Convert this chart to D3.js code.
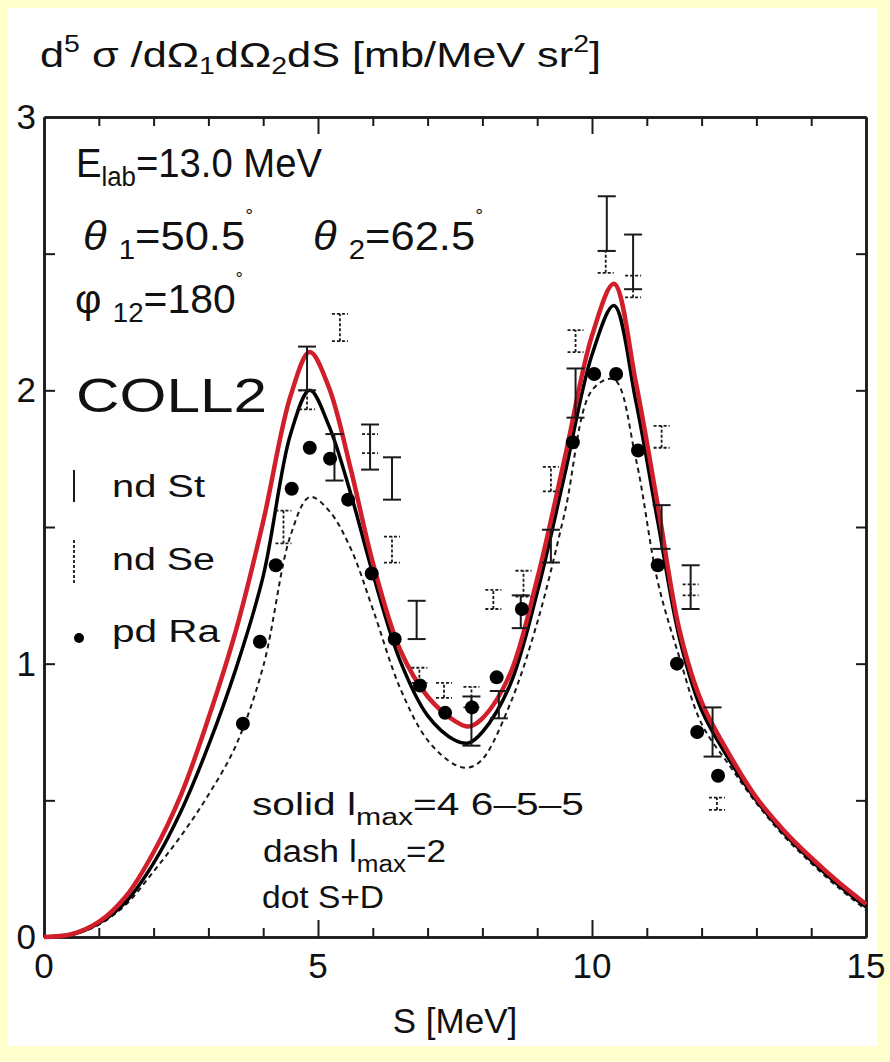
<!DOCTYPE html>
<html>
<head>
<meta charset="utf-8">
<script src="https://cdn.jsdelivr.net/npm/d3@7"></script>
<style>
  body { margin: 0; background: #ffffcc; }
  svg text { font-family: "Liberation Sans", Arial, sans-serif; fill: #111; }
  svg text.narrow { font-family: "Liberation Sans Narrow", "Liberation Sans", Arial, sans-serif; }
</style>
</head>
<body>
<svg id="svg" width="890" height="1062"></svg>
<script>
// S grid shared by the three theory curves
var gridS = [0, 0.5, 1, 1.5, 2, 2.5, 3, 3.5, 4, 4.5, 4.85, 5.2, 5.6, 6, 6.5, 7, 7.5, 7.75, 8, 8.5, 9, 9.5, 10, 10.4, 10.8, 11.2, 11.6, 12, 12.5, 13, 13.5, 14, 14.5, 15];
var redV   = [0, 0.01, 0.055, 0.15, 0.31, 0.52, 0.80, 1.12, 1.52, 1.98, 2.14, 2.01, 1.71, 1.37, 1.05, 0.88, 0.79, 0.77, 0.80, 0.96, 1.31, 1.75, 2.20, 2.39, 2.03, 1.58, 1.12, 0.86, 0.67, 0.51, 0.39, 0.29, 0.20, 0.12];
var blackV = [0, 0.008, 0.05, 0.13, 0.27, 0.46, 0.70, 0.98, 1.32, 1.84, 2.00, 1.87, 1.62, 1.33, 1.01, 0.81, 0.72, 0.71, 0.75, 0.92, 1.26, 1.69, 2.13, 2.31, 1.96, 1.52, 1.09, 0.83, 0.65, 0.50, 0.38, 0.28, 0.19, 0.11];
var dashV  = [0, 0.008, 0.045, 0.12, 0.24, 0.37, 0.52, 0.70, 0.99, 1.47, 1.61, 1.56, 1.42, 1.20, 0.91, 0.72, 0.63, 0.62, 0.65, 0.85, 1.15, 1.55, 2.00, 2.04, 1.75, 1.30, 1.02, 0.78, 0.63, 0.49, 0.37, 0.27, 0.18, 0.10];

// pd Ra points
var raS = [3.63, 3.94, 4.23, 4.52, 4.85, 5.22, 5.55, 5.98, 6.4, 6.86, 7.32, 7.81, 8.26, 8.72, 9.65, 10.04, 10.44, 10.84, 11.2, 11.55, 11.92, 12.3];
var raV = [0.78, 1.08, 1.36, 1.64, 1.79, 1.75, 1.60, 1.33, 1.09, 0.92, 0.82, 0.84, 0.95, 1.20, 1.81, 2.06, 2.06, 1.78, 1.36, 1.00, 0.75, 0.59];

// nd St error bars (solid): S, low, high
var stS  = [4.8, 5.3, 5.95, 6.35, 6.8, 7.8, 8.3, 8.7, 9.25, 9.7, 10.27, 10.75, 11.27, 11.8, 12.2];
var stLo = [2.00, 1.67, 1.71, 1.60, 1.09, 0.70, 0.80, 1.13, 1.37, 1.90, 2.51, 2.37, 1.42, 1.20, 0.66];
var stHi = [2.16, 1.84, 1.875, 1.755, 1.23, 0.88, 0.90, 1.25, 1.49, 2.08, 2.71, 2.57, 1.58, 1.36, 0.84];

// nd Se error bars (dashed)
var seS  = [4.37, 4.8, 5.4, 5.95, 6.35, 6.85, 7.3, 7.8, 8.2, 8.75, 9.25, 9.7, 10.25, 10.75, 11.27, 11.8, 12.28];
var seLo = [1.44, 1.93, 2.18, 1.77, 1.37, 0.93, 0.875, 0.84, 1.20, 1.245, 1.63, 2.14, 2.43, 2.34, 1.79, 1.25, 0.465];
var seHi = [1.56, 2.00, 2.28, 1.84, 1.465, 0.985, 0.93, 0.915, 1.27, 1.34, 1.72, 2.22, 2.51, 2.42, 1.87, 1.29, 0.51];

var xMinor = [1,2,3,4,6,7,8,9,11,12,13,14];
var xMajor = [5,10];
var xLabels = [0,5,10,15];
var yMinor = [0.5,1.5,2.5];
var yMajor = [1,2];
var yLabels = [0,1,2,3];

var svg = d3.select("#svg");
svg.append("rect").attr("x",8).attr("y",8).attr("width",870).attr("height",1038).attr("fill","#ffffff");

var x = d3.scaleLinear().domain([0,15]).range([44,866]);
var y = d3.scaleLinear().domain([0,3]).range([937,117]);

var ink = "#1a1a1a";

// axes on all four sides, ticks inward
function tickAxis(gen, scale, vals, size, tr) {
  var g = svg.append("g").attr("transform", tr)
    .call(gen(scale).tickValues(vals).tickSize(size).tickSizeOuter(0).tickFormat(""));
  g.selectAll("line").attr("stroke", ink).attr("stroke-width", 2);
  g.select(".domain").attr("stroke", ink).attr("stroke-width", 2.5);
  return g;
}
tickAxis(d3.axisBottom, x, xMinor, -9, "translate(0,937)");
tickAxis(d3.axisBottom, x, xMajor, -17, "translate(0,937)");
tickAxis(d3.axisTop, x, xMinor, -9, "translate(0,117)");
tickAxis(d3.axisTop, x, xMajor, -17, "translate(0,117)");
tickAxis(d3.axisLeft, y, yMinor, -11, "translate(44,0)");
tickAxis(d3.axisLeft, y, yMajor, -11, "translate(44,0)");
tickAxis(d3.axisRight, y, yMinor, -10, "translate(866,0)");
tickAxis(d3.axisRight, y, yMajor, -10, "translate(866,0)");

// tick labels
svg.selectAll("text.xl").data(xLabels).enter().append("text").attr("class","narrow")
  .attr("x", function(d){ return x(d); }).attr("y", 978)
  .attr("text-anchor","middle").attr("font-size", 35)
  .text(function(d){ return d; });
svg.selectAll("text.yl").data(yLabels).enter().append("text").attr("class","narrow")
  .attr("x", 36).attr("y", function(d){ return y(d) + 12; })
  .attr("text-anchor","end").attr("font-size", 35)
  .text(function(d){ return d; });

svg.append("text").attr("class","narrow").attr("x",455).attr("y",1033).attr("text-anchor","middle")
  .attr("font-size",35).text("S [MeV]");

// curves
var line = d3.line()
  .x(function(d,i){ return x(gridS[i]); })
  .y(function(d){ return y(d); })
  .curve(d3.curveCatmullRom.alpha(0.5));

var plot = svg.append("g");
plot.append("path").datum(dashV).attr("d", line).attr("fill","none")
  .attr("stroke", ink).attr("stroke-width", 2).attr("stroke-dasharray","5,4");
plot.append("path").datum(blackV).attr("d", line).attr("fill","none")
  .attr("stroke", "#000").attr("stroke-width", 3.5);
plot.append("path").datum(redV).attr("d", line).attr("fill","none")
  .attr("stroke", "#d01f2b").attr("stroke-width", 4.5);

// nd St error bars
var st = plot.selectAll("g.st").data(stS).enter().append("g")
  .attr("stroke", ink).attr("stroke-width", 2);
st.append("line").attr("x1", function(d){ return x(d); }).attr("x2", function(d){ return x(d); })
  .attr("y1", function(d,i){ return y(stLo[i]); }).attr("y2", function(d,i){ return y(stHi[i]); });
st.append("line").attr("x1", function(d){ return x(d)-9; }).attr("x2", function(d){ return x(d)+9; })
  .attr("y1", function(d,i){ return y(stLo[i]); }).attr("y2", function(d,i){ return y(stLo[i]); });
st.append("line").attr("x1", function(d){ return x(d)-9; }).attr("x2", function(d){ return x(d)+9; })
  .attr("y1", function(d,i){ return y(stHi[i]); }).attr("y2", function(d,i){ return y(stHi[i]); });

// nd Se error bars (dashed)
var se = plot.selectAll("g.se").data(seS).enter().append("g")
  .attr("stroke", ink).attr("stroke-width", 1.8).attr("stroke-dasharray","3,2");
se.append("line").attr("x1", function(d){ return x(d); }).attr("x2", function(d){ return x(d); })
  .attr("y1", function(d,i){ return y(seLo[i]); }).attr("y2", function(d,i){ return y(seHi[i]); });
se.append("line").attr("x1", function(d){ return x(d)-8; }).attr("x2", function(d){ return x(d)+8; })
  .attr("y1", function(d,i){ return y(seLo[i]); }).attr("y2", function(d,i){ return y(seLo[i]); });
se.append("line").attr("x1", function(d){ return x(d)-8; }).attr("x2", function(d){ return x(d)+8; })
  .attr("y1", function(d,i){ return y(seHi[i]); }).attr("y2", function(d,i){ return y(seHi[i]); });

// pd Ra dots
plot.selectAll("circle.ra").data(raS).enter().append("circle")
  .attr("cx", function(d){ return x(d); }).attr("cy", function(d,i){ return y(raV[i]); })
  .attr("r", 7).attr("fill", "#000");

// title
var t = svg.append("text").attr("class","narrow").attr("x",40).attr("y",67).attr("font-size",35)
  .attr("textLength",561).attr("lengthAdjust","spacingAndGlyphs");
t.append("tspan").text("d");
t.append("tspan").attr("dy",-15).attr("font-size",23).text("5");
t.append("tspan").attr("dy",15).text(" σ /dΩ");
t.append("tspan").attr("dy",7).attr("font-size",23).text("1");
t.append("tspan").attr("dy",-7).text("dΩ");
t.append("tspan").attr("dy",7).attr("font-size",23).text("2");
t.append("tspan").attr("dy",-7).text("dS  [mb/MeV sr");
t.append("tspan").attr("dy",-15).attr("font-size",23).text("2");
t.append("tspan").attr("dy",15).text("]");

// annotations
var e = svg.append("text").attr("x",76).attr("y",177).attr("font-size",40)
  .attr("textLength",246).attr("lengthAdjust","spacingAndGlyphs");
e.append("tspan").text("E");
e.append("tspan").attr("dy",9).attr("font-size",27).text("lab");
e.append("tspan").attr("dy",-9).text("=13.0 MeV");

function angle(x0, label, sub, val, len) {
  var a = svg.append("text").attr("x",x0).attr("y",250).attr("font-size",40)
    .attr("textLength",len).attr("lengthAdjust","spacingAndGlyphs");
  a.append("tspan").attr("font-style","italic").text(label);
  a.append("tspan").attr("dy",9).attr("font-size",27).text(sub);
  a.append("tspan").attr("dy",-9).text(val);
  a.append("tspan").attr("dy",-28).attr("font-size",18).text("°");
}
angle(83, "θ ", "1", "=50.5", 170);
angle(313, "θ ", "2", "=62.5", 170);

var p = svg.append("text").attr("x",75).attr("y",313).attr("font-size",40)
  .attr("textLength",168).attr("lengthAdjust","spacingAndGlyphs");
p.append("tspan").text("φ ");
p.append("tspan").attr("dy",9).attr("font-size",27).text("12");
p.append("tspan").attr("dy",-9).text("=180");
p.append("tspan").attr("dy",-28).attr("font-size",18).text("°");

svg.append("text").attr("x",76).attr("y",412).attr("font-size",48)
  .attr("textLength",191).attr("lengthAdjust","spacingAndGlyphs").text("COLL2");

// legend
var legY = [497, 570, 642];
var legT = ["nd St", "nd Se", "pd Ra"];
var legW = [93, 103, 108];
svg.selectAll("text.leg").data(legT).enter().append("text")
  .attr("x",112).attr("y",function(d,i){ return legY[i]; }).attr("font-size",31)
  .attr("textLength",function(d,i){ return legW[i]; }).attr("lengthAdjust","spacingAndGlyphs")
  .text(function(d){ return d; });
svg.append("line").attr("x1",74).attr("x2",74).attr("y1",470).attr("y2",502)
  .attr("stroke",ink).attr("stroke-width",2);
svg.append("line").attr("x1",74).attr("x2",74).attr("y1",540).attr("y2",585)
  .attr("stroke",ink).attr("stroke-width",1.8).attr("stroke-dasharray","3,2");
svg.append("circle").attr("cx",79).attr("cy",638).attr("r",5).attr("fill","#000");

// curve key
var k1 = svg.append("text").attr("x",252).attr("y",815).attr("font-size",31)
  .attr("textLength",332).attr("lengthAdjust","spacingAndGlyphs");
k1.append("tspan").text("solid l");
k1.append("tspan").attr("dy",10).attr("font-size",23).text("max");
k1.append("tspan").attr("dy",-10).text("=4 6–5–5");
var k2 = svg.append("text").attr("x",263).attr("y",862).attr("font-size",31)
  .attr("textLength",183).attr("lengthAdjust","spacingAndGlyphs");
k2.append("tspan").text("dash l");
k2.append("tspan").attr("dy",10).attr("font-size",23).text("max");
k2.append("tspan").attr("dy",-10).text("=2");
svg.append("text").attr("x",262).attr("y",908).attr("font-size",31)
  .attr("textLength",122).attr("lengthAdjust","spacingAndGlyphs").text("dot S+D");
</script>
</body>
</html>
